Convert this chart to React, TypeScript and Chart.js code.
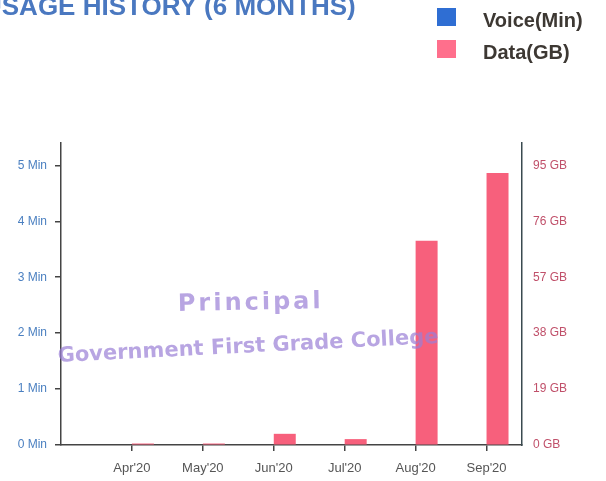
import React, { useEffect, useRef } from "react";
import { Chart, registerables } from "chart.js";

Chart.register(...registerables);

const titleText = "USAGE HISTORY (6 MONTHS)";
const months = ["Apr'20", "May'20", "Jun'20", "Jul'20", "Aug'20", "Sep'20"];
const voiceMin = [0, 0, 0, 0, 0, 0];
const dataGB = [0.5, 0.5, 3.8, 2.0, 69.4, 92.4];
const voiceTicks = [0, 1, 2, 3, 4, 5];
const dataTicks = [0, 19, 38, 57, 76, 95];
const stampLines = ["Principal", "Government First Grade College"];

const BLUE = "#2f6ed3";
const PINK = "#f7607c";
const AXIS = "#444444";

const titleLegendPlugin = {
  id: "titleLegend",
  afterDraw(chart: any) {
    const ctx = chart.ctx;
    ctx.save();
    // title (cut off at the left edge as in the reference)
    ctx.fillStyle = "#4a78c0";
    ctx.font = "bold 26px Arial, 'Liberation Sans', sans-serif";
    ctx.textBaseline = "alphabetic";
    ctx.textAlign = "left";
    ctx.fillText(titleText, -17, 15);

    // legend
    const items = chart.data.datasets;
    ctx.font = "bold 20px Arial, 'Liberation Sans', sans-serif";
    items.forEach((ds: any, i: number) => {
      const y = 8 + i * 32;
      ctx.fillStyle = ds.legendColor;
      ctx.fillRect(437, y, 19, 18);
      ctx.fillStyle = "#3d3833";
      ctx.fillText(ds.label, 483, y + 19);
    });

    // stamp
    ctx.globalAlpha = 0.7;
    ctx.fillStyle = "#9a7fd6";
    ctx.font = "bold 24px 'DejaVu Sans', sans-serif";
    (ctx as any).letterSpacing = "3px";
    ctx.save();
    ctx.translate(178, 311);
    ctx.rotate(-0.02);
    ctx.fillText(stampLines[0], 0, 0);
    ctx.restore();
    (ctx as any).letterSpacing = "0px";
    ctx.font = "bold 21px 'DejaVu Sans', sans-serif";
    ctx.save();
    ctx.translate(58, 362);
    ctx.rotate(-0.05);
    ctx.fillText(stampLines[1], 0, 0);
    ctx.restore();
    ctx.restore();
  },
};

export default function App() {
  const ref = useRef<HTMLCanvasElement>(null);

  useEffect(() => {
    if (!ref.current) return;
    const chart = new Chart(ref.current, {
      type: "bar",
      data: {
        datasets: [
          {
            label: "Voice(Min)",
            data: months.map((_, i) => ({ x: i, y: voiceMin[i] })),
            backgroundColor: BLUE,
            legendColor: BLUE,
            yAxisID: "yVoice",
            categoryPercentage: 0.62,
            barPercentage: 1,
          } as any,
          {
            label: "Data(GB)",
            data: months.map((_, i) => ({ x: i, y: dataGB[i] })),
            backgroundColor: PINK,
            legendColor: "#ff6f8c",
            yAxisID: "yData",
            categoryPercentage: 0.62,
            barPercentage: 1,
          } as any,
        ],
      },
      options: {
        animation: false,
        responsive: false,
        devicePixelRatio: 1,
        layout: { padding: { top: 143, left: 0, right: 0, bottom: 0 } },
        plugins: {
          legend: { display: false },
          title: { display: false },
          tooltip: { enabled: false },
        },
        scales: {
          x: {
            type: "linear",
            min: -1,
            max: 5.5,
            offset: false,
            afterBuildTicks: (s: any) => {
              s.ticks = months.map((_, i) => ({ value: i }));
            },
            afterFit: (s: any) => {
              s.height = 36;
            },
            ticks: {
              autoSkip: false,
              maxRotation: 0,
              padding: 10,
              color: "#555555",
              font: { family: "Arial, 'Liberation Sans', sans-serif", size: 13 },
              callback: (v: any) => months[v] ?? "",
            },
            grid: {
              offset: false,
              drawOnChartArea: false,
              drawTicks: true,
              tickLength: 6,
              color: AXIS,
              lineWidth: 1.5,
            },
            border: { display: true, color: AXIS, width: 1.5 },
          },
          yVoice: {
            type: "linear",
            position: "left",
            min: 0,
            max: 5.4,
            afterBuildTicks: (s: any) => {
              s.ticks = voiceTicks.map((v) => ({ value: v }));
            },
            afterFit: (s: any) => {
              s.width = 61;
            },
            ticks: {
              padding: 8,
              color: "#4a7fc0",
              font: { family: "Arial, 'Liberation Sans', sans-serif", size: 12 },
              callback: (v: any) => `${v} Min`,
            },
            grid: {
              drawOnChartArea: false,
              drawTicks: true,
              tickLength: 6,
              color: AXIS,
              lineWidth: 1.5,
            },
            border: { display: true, color: AXIS, width: 1.5 },
          },
          yData: {
            type: "linear",
            position: "right",
            min: 0,
            max: 102.6,
            afterBuildTicks: (s: any) => {
              s.ticks = dataTicks.map((v) => ({ value: v }));
            },
            afterFit: (s: any) => {
              s.width = 84;
            },
            ticks: {
              padding: 11,
              color: "#c0506a",
              font: { family: "Arial, 'Liberation Sans', sans-serif", size: 12 },
              callback: (v: any) => `${v} GB`,
            },
            grid: {
              drawOnChartArea: false,
              drawTicks: false,
              color: AXIS,
            },
            border: { display: true, color: "#3a4a50", width: 1.5 },
          },
        },
      } as any,
      plugins: [titleLegendPlugin],
    });
    return () => chart.destroy();
  }, []);

  return (
    <div style={{ position: "fixed", left: 0, top: 0, width: 606, height: 481, background: "#ffffff" }}>
      <canvas ref={ref} width={606} height={481} style={{ display: "block" }} />
    </div>
  );
}
